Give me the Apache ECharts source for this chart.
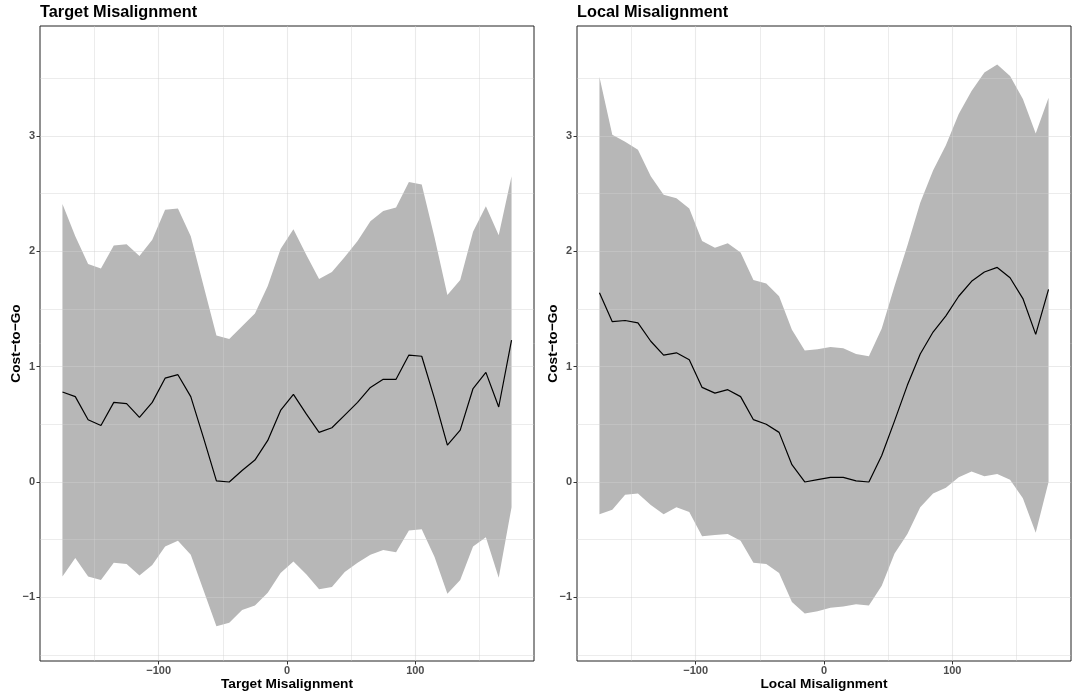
<!DOCTYPE html>
<html>
<head>
<meta charset="utf-8">
<title>Cost-to-Go vs Misalignment</title>
<script src="https://cdn.jsdelivr.net/npm/echarts@6/dist/echarts.min.js"></script>
<style>
  html, body { margin: 0; padding: 0; background: #ffffff; }
  #chart { width: 1077px; height: 695px; }
</style>
</head>
<body>
<div id="chart"></div>
<script>
// Misalignment bins (degrees)
const angles = [-175, -165, -155, -145, -135, -125, -115, -105, -95, -85, -75, -65, -55, -45, -35, -25, -15, -5,
                5, 15, 25, 35, 45, 55, 65, 75, 85, 95, 105, 115, 125, 135, 145, 155, 165, 175];

// Target misalignment: mean cost-to-go and band limits
const targetMean  = [0.78, 0.74, 0.54, 0.49, 0.69, 0.68, 0.56, 0.69, 0.90, 0.93, 0.74, 0.38, 0.01, 0.00, 0.10, 0.19, 0.36, 0.62,
                     0.76, 0.59, 0.43, 0.47, 0.58, 0.69, 0.82, 0.89, 0.89, 1.10, 1.09, 0.72, 0.32, 0.45, 0.81, 0.95, 0.65, 1.23];
const targetUpper = [2.41, 2.13, 1.89, 1.85, 2.05, 2.06, 1.96, 2.10, 2.36, 2.37, 2.13, 1.70, 1.27, 1.24, 1.35, 1.46, 1.70, 2.02,
                     2.19, 1.97, 1.76, 1.82, 1.95, 2.09, 2.26, 2.35, 2.38, 2.60, 2.58, 2.12, 1.62, 1.75, 2.17, 2.39, 2.14, 2.65];
const targetLower = [-0.82, -0.66, -0.82, -0.85, -0.70, -0.71, -0.81, -0.72, -0.56, -0.51, -0.63, -0.94, -1.25, -1.22, -1.11, -1.07, -0.96, -0.79,
                     -0.69, -0.80, -0.93, -0.91, -0.78, -0.70, -0.63, -0.59, -0.61, -0.42, -0.41, -0.65, -0.97, -0.85, -0.56, -0.48, -0.83, -0.22];

// Local misalignment: mean cost-to-go and band limits
const localMean  = [1.64, 1.39, 1.40, 1.38, 1.22, 1.10, 1.12, 1.06, 0.82, 0.77, 0.80, 0.74, 0.54, 0.50, 0.43, 0.15, 0.00, 0.02,
                    0.04, 0.04, 0.01, 0.00, 0.23, 0.53, 0.84, 1.11, 1.30, 1.44, 1.61, 1.74, 1.82, 1.86, 1.77, 1.59, 1.28, 1.67];
const localUpper = [3.51, 3.01, 2.95, 2.88, 2.65, 2.49, 2.46, 2.37, 2.09, 2.03, 2.07, 1.99, 1.75, 1.72, 1.61, 1.32, 1.14, 1.15,
                    1.17, 1.16, 1.11, 1.09, 1.33, 1.70, 2.05, 2.42, 2.70, 2.92, 3.19, 3.39, 3.55, 3.62, 3.52, 3.32, 3.02, 3.33];
const localLower = [-0.28, -0.24, -0.11, -0.10, -0.20, -0.28, -0.22, -0.26, -0.47, -0.46, -0.45, -0.51, -0.70, -0.71, -0.79, -1.04, -1.14, -1.12,
                    -1.09, -1.08, -1.06, -1.07, -0.90, -0.62, -0.45, -0.22, -0.10, -0.05, 0.04, 0.09, 0.05, 0.07, 0.02, -0.14, -0.44, 0.00];

// Axis ticks
const xMajorTicks = [-100, 0, 100];
const xMinorTicks = [-150, -50, 50, 150];
const yMajorTicks = [-1, 0, 1, 2, 3];
const yMinorTicks = [-1.5, -0.5, 0.5, 1.5, 2.5, 3.5];

const panelTitles = ['Target Misalignment', 'Local Misalignment'];
const yTitle = 'Cost\u2212to\u2212Go';

const FONT = '"Liberation Sans", Arial, Helvetica, sans-serif';
const RIBBON = '#b7b7b7';
const GRID_LINE = 'rgba(208,208,208,0.45)';
const X_RANGE = [-192.5, 192.5];
const Y_RANGE = [-1.552, 3.953];

const fmt = v => (v < 0 ? '\u2212' + Math.abs(v) : String(v));

const panels = [
  { left: 40,  mean: targetMean, upper: targetUpper, lower: targetLower },
  { left: 577, mean: localMean,  upper: localUpper,  lower: localLower }
];

const grids = [], xAxes = [], yAxes = [], series = [], titles = [];

panels.forEach((p, k) => {
  grids.push({
    left: p.left, top: 26, width: 494, height: 635,
    outerBoundsMode: 'none', containLabel: false,
    show: true, backgroundColor: '#ffffff', borderColor: '#222222', borderWidth: 1
  });

  titles.push({
    text: panelTitles[k], left: p.left, top: 5, padding: 0,
    textStyle: { fontFamily: FONT, fontSize: 16.3, fontWeight: 'bold', color: '#000000' }
  });

  const mainX = xAxes.length;
  // major x axis: ticks, labels, major grid lines
  xAxes.push({
    type: 'value', gridIndex: k, min: X_RANGE[0], max: X_RANGE[1], position: 'bottom', z: 3,
    name: panelTitles[k], nameLocation: 'middle', nameGap: 16.5, nameMoveOverlap: false,
    nameTextStyle: { fontFamily: FONT, fontSize: 13.7, fontWeight: 'bold', color: '#000000' },
    axisLine: { show: false, onZero: false },
    axisTick: { show: true, length: 3.5, lineStyle: { color: '#333333', width: 1 }, customValues: xMajorTicks },
    axisLabel: { show: true, margin: 4, customValues: xMajorTicks, formatter: fmt,
                 fontFamily: FONT, fontSize: 11, fontWeight: 'bold', color: '#4d4d4d' },
    splitLine: { show: true, lineStyle: { color: GRID_LINE, width: 1.1 } }
  });
  // minor x grid lines
  xAxes.push({
    type: 'value', gridIndex: k, min: X_RANGE[0], max: X_RANGE[1], position: 'top', z: 3,
    axisLine: { show: false, onZero: false },
    axisTick: { show: false, customValues: xMinorTicks },
    axisLabel: { show: false, customValues: xMinorTicks },
    splitLine: { show: true, lineStyle: { color: GRID_LINE, width: 0.9 } }
  });

  const mainY = yAxes.length;
  yAxes.push({
    type: 'value', gridIndex: k, min: Y_RANGE[0], max: Y_RANGE[1], position: 'left', z: 3,
    name: yTitle, nameLocation: 'middle', nameRotate: 90, nameGap: 17, nameMoveOverlap: false,
    nameTextStyle: { fontFamily: FONT, fontSize: 13.7, fontWeight: 'bold', color: '#000000' },
    axisLine: { show: false, onZero: false },
    axisTick: { show: true, length: 3.5, lineStyle: { color: '#333333', width: 1 }, customValues: yMajorTicks },
    axisLabel: { show: true, margin: 5, customValues: yMajorTicks, formatter: fmt,
                 fontFamily: FONT, fontSize: 11, fontWeight: 'bold', color: '#4d4d4d' },
    splitLine: { show: true, lineStyle: { color: GRID_LINE, width: 1.1 } }
  });
  yAxes.push({
    type: 'value', gridIndex: k, min: Y_RANGE[0], max: Y_RANGE[1], position: 'right', z: 3,
    axisLine: { show: false, onZero: false },
    axisTick: { show: false, customValues: yMinorTicks },
    axisLabel: { show: false, customValues: yMinorTicks },
    splitLine: { show: true, lineStyle: { color: GRID_LINE, width: 0.9 } }
  });

  // shaded band between lower and upper limits
  series.push({
    type: 'custom', xAxisIndex: mainX, yAxisIndex: mainY, z: 2, silent: true,
    data: angles.map((a, i) => [a, p.lower[i], p.upper[i]]),
    encode: { x: 0, y: [1, 2] },
    renderItem: (params, api) => {
      if (params.dataIndex !== 0) return null;
      const top = angles.map((a, i) => api.coord([a, p.upper[i]]));
      const bottom = angles.map((a, i) => api.coord([a, p.lower[i]])).reverse();
      return { type: 'polygon', shape: { points: top.concat(bottom) }, style: { fill: RIBBON } };
    }
  });

  // mean cost-to-go line
  series.push({
    type: 'line', xAxisIndex: mainX, yAxisIndex: mainY, z: 5, silent: true,
    data: angles.map((a, i) => [a, p.mean[i]]),
    showSymbol: false, symbol: 'none',
    lineStyle: { color: '#000000', width: 1.2 }
  });
});

const chart = echarts.init(document.getElementById('chart'), null, { renderer: 'canvas' });
chart.setOption({
  animation: false,
  backgroundColor: '#ffffff',
  title: titles,
  grid: grids,
  xAxis: xAxes,
  yAxis: yAxes,
  series: series
});
</script>
</body>
</html>
